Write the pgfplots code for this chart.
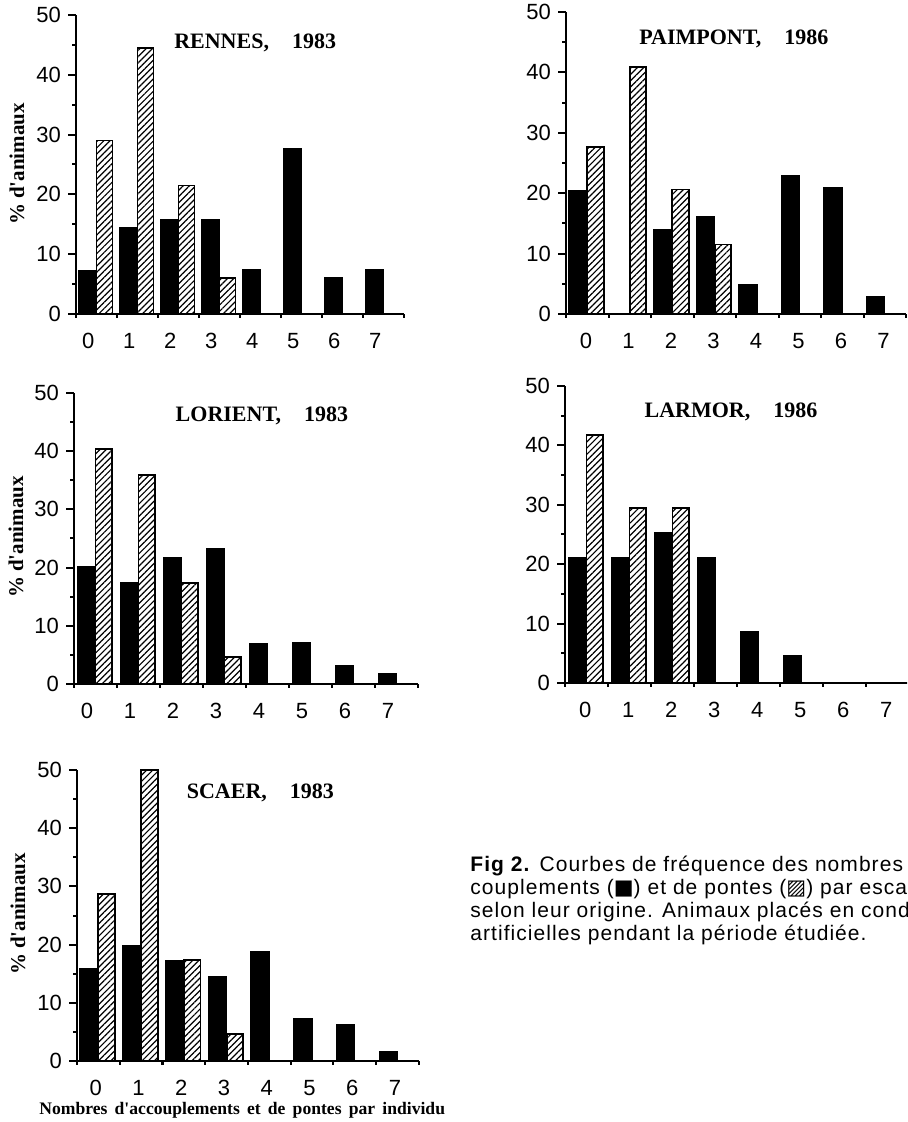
\documentclass[border=0pt]{standalone}
\usepackage{fontspec}
\setmainfont{Liberation Serif}
\newfontfamily\sansf{Liberation Sans}
\newfontfamily\capf{Liberation Sans}[LetterSpace=5]
\newfontfamily\symf{DejaVu Sans}
\usepackage{pgfplots}
\pgfplotsset{compat=1.18}
\usepackage{pgfplotstable}
\usetikzlibrary{patterns.meta}

\pgfplotstableread{
k b h
0 7.3 29.0
1 14.4 44.5
2 15.8 21.5
3 15.8 6.0
4 7.4 nan
5 27.6 nan
6 6.1 nan
7 7.5 nan
}\rennes
\pgfplotstableread{
k b h
0 20.5 27.6
1 nan 40.9
2 14.0 20.6
3 16.1 11.5
4 4.9 nan
5 22.9 nan
6 20.9 nan
7 2.9 nan
}\paimpont
\pgfplotstableread{
k b h
0 20.2 40.4
1 17.4 35.9
2 21.8 17.4
3 23.3 4.6
4 7.0 nan
5 7.1 nan
6 3.2 nan
7 1.8 nan
}\lorient
\pgfplotstableread{
k b h
0 21.1 41.7
1 21.1 29.4
2 25.4 29.4
3 21.2 nan
4 8.6 nan
5 4.7 nan
6 nan nan
7 nan nan
}\larmor
\pgfplotstableread{
k b h
0 15.9 28.7
1 19.9 50.0
2 17.3 17.3
3 14.5 4.6
4 18.9 nan
5 7.3 nan
6 6.2 nan
7 1.7 nan
}\scaer

\pgfplotsset{
  panel/.style={
    scale only axis, anchor=south west,
    xmin=0, xmax=8, ymin=0, ymax=50,
    axis x line=bottom, axis y line=left,
    axis line style={-, line width=1pt},
    tick align=outside,
    ytick={0,10,20,30,40,50}, minor ytick={5,15,25,35,45},
    minor xtick={0,1,2,3,4,5,6,7,8},
    major x tick style={draw=none},
    xticklabels={0,1,2,3,4,5,6,7},
    major tick length=4pt, minor tick length=2pt,
    every tick/.style={line width=1pt, black},
    tick label style={font=\sansf\fontsize{11}{12}\selectfont},
    xticklabel style={yshift=-2pt},
    /pgf/number format/assume math mode=true,
    clip=false,
  },
  blackbar/.style={ybar, bar shift=0pt, bar width=0.43, fill=black, draw=black, line width=0.5pt},
  hatchbar/.style={ybar, bar shift=0pt, bar width=0.39, draw=black, line width=0.9pt,
    pattern={Lines[angle=45,distance=2.2pt,line width=0.6pt]}},
}
\tikzset{ttl/.style={font=\bfseries\fontsize{11}{13}\selectfont},
  ylab/.style={rotate=90, font=\bfseries\fontsize{10.5}{12}\selectfont}}

\begin{document}
\begin{tikzpicture}
\path[use as bounding box] (0pt,0pt) rectangle (453.5pt,561pt);
\clip (0pt,0pt) rectangle (453.5pt,561pt);

% RENNES
\begin{axis}[panel, at={(38pt,404pt)}, width=164pt, height=149.5pt,
  xtick={0.3,1.3,2.3,3.3,4.3,5.3,6.3,7.3}]
\addplot[blackbar] table[x expr=\thisrow{k}+0.285, y=b]{\rennes};
\addplot[hatchbar] table[x expr=\thisrow{k}+0.695, y=h]{\rennes};
\node[ttl] at (axis cs:4.37,45.3) {RENNES,\hspace{11.5pt}1983};
\end{axis}

% PAIMPONT
\begin{axis}[panel, at={(283pt,404pt)}, width=170pt, height=151pt,
  xtick={0.47,1.47,2.47,3.47,4.47,5.47,6.47,7.47}]
\addplot[blackbar] table[x expr=\thisrow{k}+0.285, y=b]{\paimpont};
\addplot[hatchbar] table[x expr=\thisrow{k}+0.695, y=h]{\paimpont};
\node[ttl] at (axis cs:3.95,45.6) {PAIMPONT,\hspace{11.5pt}1986};
\end{axis}

% LORIENT
\begin{axis}[panel, at={(37pt,219pt)}, width=172pt, height=145.5pt,
  xtick={0.3,1.3,2.3,3.3,4.3,5.3,6.3,7.3}]
\addplot[blackbar] table[x expr=\thisrow{k}+0.285, y=b]{\lorient};
\addplot[hatchbar] table[x expr=\thisrow{k}+0.695, y=h]{\lorient};
\node[ttl] at (axis cs:4.37,46.0) {LORIENT,\hspace{11.5pt}1983};
\end{axis}

% LARMOR
\begin{axis}[panel, at={(282.5pt,219.5pt)}, width=172pt, height=148.5pt,
  xtick={0.47,1.47,2.47,3.47,4.47,5.47,6.47,7.47}]
\addplot[blackbar] table[x expr=\thisrow{k}+0.285, y=b]{\larmor};
\addplot[hatchbar] table[x expr=\thisrow{k}+0.695, y=h]{\larmor};
\node[ttl] at (axis cs:3.86,45.6) {LARMOR,\hspace{11.5pt}1986};
\end{axis}

% SCAER
\begin{axis}[panel, at={(38.5pt,30.5pt)}, width=171pt, height=145.5pt,
  xtick={0.44,1.44,2.44,3.44,4.44,5.44,6.44,7.44}]
\addplot[blackbar] table[x expr=\thisrow{k}+0.285, y=b]{\scaer};
\addplot[hatchbar] table[x expr=\thisrow{k}+0.695, y=h]{\scaer};
\node[ttl] at (axis cs:4.29,46.0) {SCAER,\hspace{11.5pt}1983};
\end{axis}

% y labels
\node[ylab] at (8.5pt,479pt) {\% d\textquotesingle animaux};
\node[ylab] at (8pt,292.5pt) {\% d\textquotesingle animaux};
\node[ylab] at (9pt,104pt) {\% d\textquotesingle animaux};

% x label
\node[anchor=west, inner sep=0pt, font=\bfseries\fontsize{8.8}{10}\selectfont] at (19.5pt,6pt)
  {Nombres\hspace{3.6pt}d\textquotesingle accouplements\hspace{3.6pt}et\hspace{3.6pt}de\hspace{3.6pt}pontes\hspace{3.6pt}par\hspace{3.6pt}individu};

% caption (cut at the right edge, as in the reference)
\begin{scope}[every node/.style={anchor=base west, inner sep=0pt, font=\capf\fontsize{10.5}{11.5}\selectfont}]
\node at (235pt,125pt) {\textbf{Fig 2.} Courbes de fréquence des nombres};
\node at (235pt,113.5pt) {couplements ({\symf ■}) et de pontes ({\symf ▨}) par escargot};
\node at (235pt,102pt) {selon leur origine. Animaux placés en conditions};
\node at (235pt,90.5pt) {artificielles pendant la période étudiée.};
\end{scope}
\end{tikzpicture}
\end{document}
